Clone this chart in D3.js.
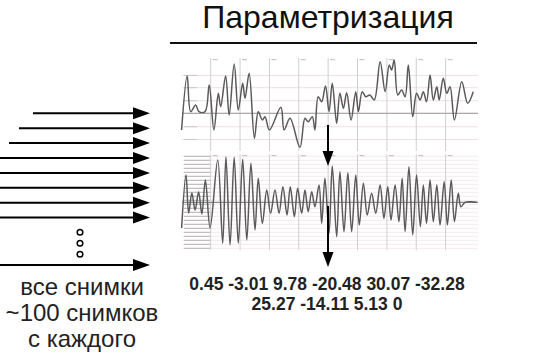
<!DOCTYPE html>
<html>
<head>
<meta charset="utf-8">
<script src="https://cdn.jsdelivr.net/npm/d3@7"></script>
<style>
  html, body { margin: 0; padding: 0; background: #fff; }
  svg { display: block; font-family: "Liberation Sans", Arial, sans-serif; }
</style>
</head>
<body>
<div id="chart"></div>
<script>
/* ── Data ─────────────────────────────────────────────────────────── */

// upper trace: time (grid units) and amplitude
const upperT = [0.01, 0.20, 0.32, 0.49, 0.60, 0.81, 0.95, 1.11, 1.26, 1.34, 1.51, 1.63, 1.80, 1.94,
  2.09, 2.17, 2.31, 2.49, 2.62, 2.76, 2.85, 3.00, 3.39, 3.50, 3.70, 4.04, 4.21, 4.32, 4.46, 4.55,
  4.66, 4.78, 4.91, 5.03, 5.14, 5.29, 5.40, 5.52, 5.63, 5.78, 5.94, 6.03, 6.16, 6.28, 6.42, 6.57,
  6.77, 6.94, 7.08, 7.16, 7.25, 7.37, 7.50, 7.62, 7.73, 7.88, 8.01, 8.13, 8.24, 8.35, 8.47, 8.58,
  8.70, 8.78, 8.92, 9.04, 9.15, 9.30, 9.55, 9.75, 9.94];
const upperV = [-1.30, 2.91, 0.13, 0.65, 0.13, 0.13, 2.21, -1.30, 1.56, 0.52, 2.91, -0.13, 3.85, 0.26,
  2.34, 1.17, 3.13, -1.95, 0.13, -0.52, -0.27, -1.30, 0.47, -1.30, -0.39, -2.66, -0.39, -0.66, -0.27, -1.30,
  1.30, 0.91, 2.13, 0.13, 2.34, -0.78, 1.56, 0.39, 1.61, -0.52, 1.69, 0.13, 1.69, 1.30, 1.43, 1.04,
  4.03, 1.69, 3.77, 3.38, 4.16, 1.43, 1.82, 1.30, 3.77, -0.27, 1.56, 1.04, 1.69, 0.91, 2.99, 1.04,
  2.08, 1.04, 2.73, 1.56, 2.08, -0.52, 2.47, 0.78, 1.69];

// lower trace: time (grid units) and amplitude
const lowerT = [0.01, 0.16, 0.25, 0.36, 0.47, 0.59, 0.70, 0.82, 0.98,
  1.24, 1.41, 1.52, 1.66, 1.80, 1.94, 2.09, 2.23, 2.37, 2.51, 2.62, 2.76, 2.91, 3.04, 3.19, 3.33,
  3.46, 3.60, 3.71, 3.85, 3.96, 4.10, 4.21, 4.32, 4.44, 4.55, 4.69, 4.78, 4.89,
  5.03, 5.14, 5.29, 5.40, 5.54, 5.67, 5.80, 5.94, 6.06, 6.20, 6.33, 6.48, 6.62, 6.77, 6.90, 7.03,
  7.14, 7.28, 7.41, 7.52, 7.62, 7.75, 7.88, 8.01, 8.14, 8.24, 8.35, 8.47, 8.58, 8.70, 8.81, 8.95,
  9.06, 9.19, 9.30, 9.43, 9.52, 9.66, 9.89, 10.06];
const lowerV = [-2.57, 2.73, -1.07, 0.93, -0.77, 1.03, -1.17, 2.23, -2.57,
  4.23, -4.10, 4.56, -4.27, 4.50, -4.10, 4.30, -3.77, 3.90, -2.77, 2.40, -2.10, 1.23, -1.10, 1.23, -1.10,
  1.56, -1.27, 1.56, -1.44, 1.40, -1.10, 1.23, -0.94, 1.06, -0.44, 1.73, -2.10, 2.40,
  -3.10, 3.63, -3.44, 3.06, -2.94, 2.96, -2.94, 2.73, -2.27, 1.90, -1.27, 0.90, -1.10, 1.73, -1.60, 1.56,
  -1.77, 1.73, -1.94, 2.40, -2.94, 3.56, -3.27, 2.73, -2.44, 1.73, -2.10, 2.23, -1.94, 1.73, -2.27, 2.06,
  -2.27, 2.23, -1.94, 0.90, -0.44, 0, 0.06, 0];

const coefficients = [0.45, -3.01, 9.78, -20.48, 30.07, -32.28, 25.27, -14.11, 5.13, 0];
const leftCaption = ['все снимки', '~100 снимков', 'с каждого'];
const title = 'Параметризация';

/* ── Setup ────────────────────────────────────────────────────────── */

const width = 547, height = 361;
const svg = d3.select('#chart').append('svg')
  .attr('width', width)
  .attr('height', height);

const x = d3.scaleLinear().domain([0, 10]).range([181.3, 475]);
const yUp = d3.scaleLinear().domain([-3, 4.5]).range([151.7, 55.7]);
const yLow = d3.scaleLinear().domain([-5, 5]).range([252.3, 152.3]);

/* ── Title ────────────────────────────────────────────────────────── */

svg.append('text')
  .attr('x', 328).attr('y', 28)
  .attr('text-anchor', 'middle')
  .attr('font-size', 32)
  .attr('fill', '#111')
  .text(title);

svg.append('line')
  .attr('x1', 170).attr('x2', 477)
  .attr('y1', 43).attr('y2', 43)
  .attr('stroke', '#111').attr('stroke-width', 2);

/* ── Panels ───────────────────────────────────────────────────────── */

function drawPanel(yScale, top, bottom, hLines, hColor, zeroColor, labelColor, labelW) {
  const g = svg.append('g');
  // horizontal grid
  g.selectAll('line.h').data(hLines).join('line')
    .attr('x1', 182).attr('x2', 478)
    .attr('y1', d => yScale(d)).attr('y2', d => yScale(d))
    .attr('stroke', hColor).attr('stroke-width', 1);
  // vertical grid
  const vt = d3.range(1, 10);
  g.selectAll('line.v').data(vt).join('line')
    .attr('x1', d => x(d)).attr('x2', d => x(d))
    .attr('y1', top).attr('y2', bottom)
    .attr('stroke', '#cfcfcf').attr('stroke-width', 1);
  // tiny tick captions at the top of each vertical line
  g.selectAll('rect.tk').data(vt).join('rect')
    .attr('x', d => x(d) + 2).attr('y', top + 1)
    .attr('width', 5).attr('height', 1.2)
    .attr('fill', '#c8c8c8');
  // tiny value captions on the left
  g.selectAll('rect.lb').data(hLines.filter(d => d !== 0)).join('rect')
    .attr('x', 184).attr('y', d => yScale(d) - 0.5)
    .attr('width', labelW).attr('height', 1)
    .attr('fill', labelColor);
  // zero line
  g.append('line')
    .attr('x1', 182).attr('x2', 478)
    .attr('y1', yScale(0)).attr('y2', yScale(0))
    .attr('stroke', zeroColor).attr('stroke-width', 1.2);
  return g;
}

const upG = drawPanel(yUp, 58, 151, [-2.05, -1.05, 0, 0.98, 2.0, 2.96], '#f0dfe4', '#aaa', '#c8c8c8', 13);
const lowG = drawPanel(yLow, 154, 250, d3.range(-4.6, 4.7, 0.4).map(d => +d.toFixed(2)),
  '#f6eaee', '#8c8c8c', '#b4b4b4', 26);

const upperLine = d3.line()
  .x((d, i) => x(upperT[i]))
  .y(d => yUp(d))
  .curve(d3.curveCatmullRom.alpha(0.5));

upG.append('path')
  .datum(upperV)
  .attr('d', upperLine)
  .attr('fill', 'none')
  .attr('stroke', '#5a5a5a')
  .attr('stroke-width', 1.5);

const lowerLine = d3.line()
  .x((d, i) => x(lowerT[i]))
  .y(d => yLow(d))
  .curve(d3.curveCatmullRom.alpha(0.5));

lowG.append('path')
  .datum(lowerV)
  .attr('d', lowerLine)
  .attr('fill', 'none')
  .attr('stroke', '#5a5a5a')
  .attr('stroke-width', 1.5);

/* ── Arrows ───────────────────────────────────────────────────────── */

function hArrow(x0, x1, y) {
  svg.append('line')
    .attr('x1', x0).attr('x2', x1 - 14)
    .attr('y1', y).attr('y2', y)
    .attr('stroke', '#000').attr('stroke-width', 2);
  svg.append('path')
    .attr('d', `M${x1 - 17},${y - 6}L${x1},${y}L${x1 - 17},${y + 6}Z`)
    .attr('fill', '#000');
}

function vArrow(xp, y0, y1) {
  svg.append('line')
    .attr('x1', xp).attr('x2', xp)
    .attr('y1', y0).attr('y2', y1 - 12)
    .attr('stroke', '#000').attr('stroke-width', 2);
  svg.append('path')
    .attr('d', `M${xp - 5.5},${y1 - 15}L${xp},${y1}L${xp + 5.5},${y1 - 15}Z`)
    .attr('fill', '#000');
}

const arrowStarts = [33, 19, 9, 0, 0, 0, 0, 0];
arrowStarts.forEach((s, i) => hArrow(s, 150, 113.3 + i * 14.9));
hArrow(0, 150, 265);

svg.selectAll('circle.dot').data([0, 1, 2]).join('circle')
  .attr('cx', 80).attr('cy', d => 232.3 + d * 11)
  .attr('r', 2.8)
  .attr('fill', '#fff').attr('stroke', '#000').attr('stroke-width', 1.5);

vArrow(328, 125, 166);
vArrow(328, 206, 267);

/* ── Texts ────────────────────────────────────────────────────────── */

svg.selectAll('text.cap').data(leftCaption).join('text')
  .attr('x', 82).attr('y', (d, i) => 295 + i * 26)
  .attr('text-anchor', 'middle')
  .attr('font-size', 24)
  .attr('fill', '#222')
  .text(d => d);

const rows = [coefficients.slice(0, 6), coefficients.slice(6)];
svg.selectAll('text.coef').data(rows).join('text')
  .attr('x', 327).attr('y', (d, i) => 290 + i * 20)
  .attr('text-anchor', 'middle')
  .attr('font-size', 17.5)
  .attr('font-weight', 'bold')
  .attr('fill', '#222')
  .text(d => d.join(' '));
</script>
</body>
</html>
